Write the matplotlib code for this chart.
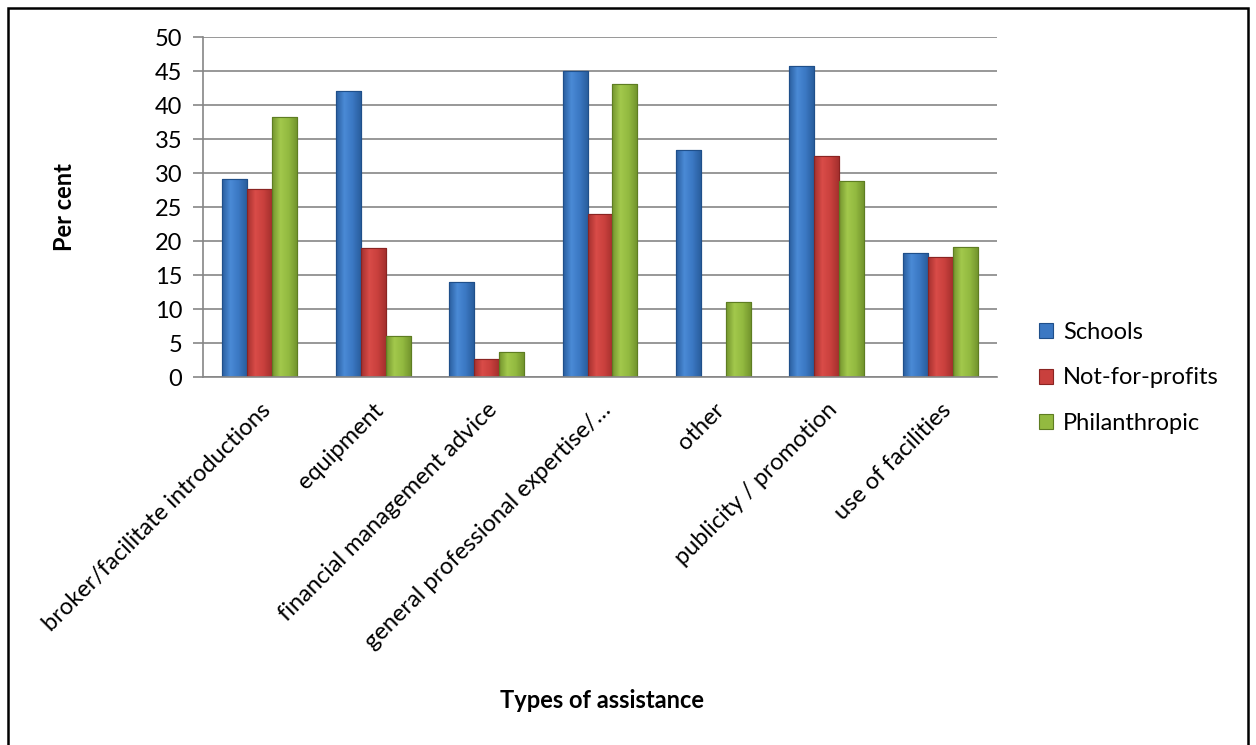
import matplotlib
matplotlib.use("Agg")
import matplotlib.pyplot as plt
import numpy as np
from matplotlib.patches import Rectangle
from matplotlib.colors import LinearSegmentedColormap

plt.rcParams['font.family'] = ['Lato', 'DejaVu Sans']

categories = ["broker/facilitate introductions", "equipment", "financial management advice",
              "general professional expertise/\u2026", "other", "publicity / promotion",
              "use of facilities"]
schools = [29.1, 42.0, 13.9, 45.0, 33.4, 45.8, 18.2]
not_for_profits = [27.6, 18.9, 2.6, 24.0, 0, 32.5, 17.6]
philanthropic = [38.2, 6.1, 3.7, 43.1, 11.0, 28.8, 19.1]
series_names = ["Schools", "Not-for-profits", "Philanthropic"]
yticks = [0, 5, 10, 15, 20, 25, 30, 35, 40, 45, 50]

colors = ["#3b78c3", "#c9403d", "#93ba40"]
lights = ["#4a8ad6", "#d94c48", "#a2c84c"]
darks = ["#2a5e9e", "#a5302e", "#74962e"]
edges = ["#1f4f8a", "#8a2422", "#5e7d22"]

FS = 17
W, H = 1256, 745
fig = plt.figure(figsize=(W / 100, H / 100), dpi=100)
ax = fig.add_axes([203 / W, 1 - 377 / H, (997 - 203) / W, (377 - 37) / H])
ax.set_xlim(-0.5, len(categories) - 0.5)
ax.set_ylim(0, 50)

x = np.arange(len(categories))
bw = 0.22
grad = np.linspace(0, 1, 64).reshape(1, -1)
for i, (vals, name) in enumerate(zip([schools, not_for_profits, philanthropic], series_names)):
    bars = ax.bar(x + (i - 1) * bw, vals, width=bw, color=colors[i], edgecolor=edges[i],
                  linewidth=0.8, label=name, zorder=3)
    cmap = LinearSegmentedColormap.from_list("g%d" % i, [darks[i], lights[i], colors[i], darks[i]])
    for b in bars:
        h = b.get_height()
        if h <= 0:
            continue
        im = ax.imshow(grad, cmap=cmap, aspect='auto', zorder=3.5,
                       extent=(b.get_x(), b.get_x() + b.get_width(), 0, h))
        im.set_clip_path(b)
        ax.bar(b.get_x() + b.get_width() / 2, h, width=b.get_width(), fill=False,
               edgecolor=edges[i], linewidth=0.8, zorder=4)
ax.set_xlim(-0.5, len(categories) - 0.5)
ax.set_ylim(0, 50)

ax.set_yticks(yticks)
ax.set_yticklabels([str(t) for t in yticks], fontsize=FS)
ax.yaxis.grid(True, color="#868686", linewidth=1.2, zorder=0)
ax.set_axisbelow(True)
ax.tick_params(axis='y', length=7, width=1.2, color="#868686", pad=8)
ax.tick_params(axis='x', length=0, pad=16)
ax.set_xticks(x)
ax.set_xticklabels(categories, rotation=45, ha='right', rotation_mode='anchor', fontsize=FS)
for s in ['top', 'right']:
    ax.spines[s].set_visible(False)
for s in ['left', 'bottom']:
    ax.spines[s].set_color("#868686")
    ax.spines[s].set_linewidth(1.2)
    ax.spines[s].set_zorder(5)

fig.text(65 / W, 1 - 207 / H, "Per cent", rotation=90, ha='center', va='center',
         fontsize=FS, fontweight='bold')
fig.text(602 / W, 1 - 700 / H, "Types of assistance", ha='center', va='center',
         fontsize=FS, fontweight='bold')

leg = fig.legend(loc='center left', bbox_to_anchor=(1018 / W, 1 - 378 / H), frameon=False,
                 fontsize=FS, handlelength=0.6, handleheight=0.6, handletextpad=0.4,
                 labelspacing=1.05)

fig.add_artist(Rectangle((8 / W, -0.05), (1248 - 8) / W, 1 - 8 / H + 0.05,
                         transform=fig.transFigure, fill=False, edgecolor='black',
                         linewidth=1.8))

fig.savefig("out.png", dpi=100)
